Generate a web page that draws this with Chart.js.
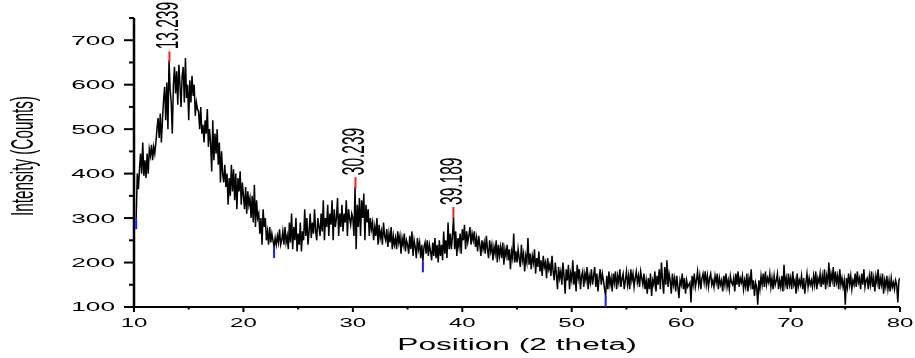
<!DOCTYPE html>
<html>
<head>
<meta charset="utf-8">
<script src="https://cdn.jsdelivr.net/npm/chart.js@4.4.1/dist/chart.umd.min.js"></script>
<style>
  html, body { margin: 0; padding: 0; background: #fff; }
</style>
</head>
<body>
<canvas id="xrdChart" width="915" height="358"></canvas>
<script>
// scan grid: 2 theta from 10.2 to 80.0, step 0.1
const startTheta = 10.2;
const thetaStep = 0.1;

// intensity (counts), one decade at a time
const counts10s = [
  300, 400, 365, 410, 445, 400, 470, 395,
  430, 390, 445, 400, 455, 440, 465, 430, 460, 445,
  470, 500, 525, 480, 535, 470, 520, 565, 595, 520,
  605, 500, 655, 590, 560, 490, 600, 640, 580, 630,
  555, 645, 600, 550, 620, 640, 560, 660, 570, 600,
  520, 610, 560, 620, 575, 600, 530, 560, 545, 540,
  500, 550, 490, 510, 470, 520, 490, 545, 460, 500,
  470, 405, 520, 430, 490, 445, 500, 420, 470, 380,
  450, 400, 380, 420, 370, 400, 330, 390, 350, 420,
  360, 410, 340, 400, 320, 390, 360, 405, 330, 380
];
const counts20s = [
  350, 320, 370, 310, 360, 330, 345, 300, 350, 290,
  375, 280, 340, 300, 310, 265, 300, 240, 320, 280,
  300, 250, 270, 240, 280, 245, 265, 250, 235, 255,
  240, 260, 245, 275, 240, 250, 270, 240, 280, 245,
  260, 230, 290, 245, 310, 230, 280, 250, 300, 225,
  265, 240, 290, 225, 270, 250, 320, 260, 300, 240,
  270, 310, 255, 290, 265, 320, 270, 250, 300, 280,
  260, 310, 270, 340, 250, 300, 280, 330, 260, 310,
  285, 340, 250, 320, 280, 300, 345, 260, 310, 280,
  330, 270, 310, 290, 340, 260, 320, 300, 285, 310
];
const counts30s = [
  300, 260, 370, 230, 330, 280, 345, 260, 340, 300,
  355, 250, 330, 290, 320, 260, 300, 275, 290, 250,
  280, 260, 300, 240, 285, 255, 270, 240, 290, 260,
  250, 275, 235, 265, 245, 280, 230, 260, 240, 255,
  230, 270, 245, 260, 220, 255, 240, 265, 225, 250,
  240, 220, 260, 230, 270, 215, 250, 235, 210, 255,
  230, 245, 210, 240, 203, 235, 245, 220, 250, 215,
  240, 225, 205, 245, 215, 255, 210, 240, 200, 250,
  215, 240, 205, 270, 220, 250, 210, 290, 230, 265,
  230, 260, 302, 230, 270, 215, 255, 235, 265, 220
];
const counts40s = [
  275, 250, 285, 230, 270, 245, 260, 280, 240, 265,
  250, 270, 235, 255, 225, 260, 240, 215, 250, 230,
  245, 220, 260, 230, 210, 250, 225, 240, 205, 235,
  220, 250, 200, 240, 215, 235, 210, 245, 195, 230,
  215, 240, 205, 230, 185, 225, 210, 265, 200, 225,
  200, 230, 210, 190, 240, 205, 220, 180, 215, 200,
  255, 195, 220, 185, 215, 200, 230, 175, 210, 190,
  225, 180, 205, 170, 215, 190, 200, 165, 210, 185,
  195, 170, 215, 180, 160, 200, 175, 140, 190, 165,
  180, 150, 200, 170, 130, 185, 160, 195, 140, 175
];
const counts50s = [
  160, 205, 150, 180, 135, 195, 165, 185, 140, 170,
  180, 145, 175, 160, 190, 140, 170, 155, 185, 150,
  170, 190, 145, 175, 135, 165, 185, 150, 175, 160,
  140, 125, 170, 140, 180, 150, 165, 135, 175, 155,
  180, 140, 170, 155, 185, 145, 165, 175, 140, 160,
  180, 150, 170, 140, 185, 160, 175, 145, 165, 180,
  155, 170, 145, 180, 165, 150, 175, 140, 160, 130,
  165, 140, 175, 125, 160, 150, 180, 135, 170, 150,
  185, 140, 200, 160, 130, 190, 150, 205, 145, 175,
  160, 130, 175, 150, 165, 135, 170, 145, 120, 160
];
const counts60s = [
  150, 175, 140, 165, 130, 160, 145, 150, 155, 110,
  170, 150, 175, 145, 160, 180, 150, 170, 140, 165,
  175, 155, 180, 150, 170, 145, 165, 175, 150, 160,
  145, 170, 155, 175, 140, 165, 150, 160, 135, 170,
  150, 175, 145, 160, 140, 170, 155, 150, 165, 135,
  175, 150, 180, 145, 165, 155, 170, 140, 160, 145,
  175, 135, 165, 150, 185, 140, 160, 125, 155, 145,
  105, 160, 140, 170, 150, 175, 145, 180, 150, 165,
  155, 175, 145, 165, 140, 170, 150, 160, 175, 140,
  160, 145, 170, 135, 195, 150, 165, 140, 175, 150
];
const counts70s = [
  165, 140, 180, 150, 160, 130, 175, 145, 160, 150,
  170, 140, 165, 130, 155, 175, 145, 165, 150, 160,
  145, 170, 150, 180, 140, 165, 155, 175, 145, 170,
  150, 185, 140, 170, 155, 200, 145, 175, 160, 190,
  145, 180, 155, 170, 140, 185, 150, 165, 145, 160,
  105, 165, 145, 175, 150, 170, 140, 160, 150, 175,
  145, 180, 155, 165, 140, 175, 150, 185, 145, 160,
  165, 140, 170, 150, 180, 145, 165, 135, 170, 155,
  185, 140, 165, 150, 175, 130, 160, 145, 170, 140,
  160, 135, 165, 145, 155, 140, 160, 150, 110, 160,
  165
];

// labelled peaks (red) and baseline points (blue)
const peakThetas = [13.239, 30.239, 39.189];
const peakCounts = [650, 367, 300];
const baseThetas = [10.2, 22.8, 36.4, 53.1];
const baseCounts = [300, 235, 203, 125];

const xTickLabels = [10, 20, 30, 40, 50, 60, 70, 80];
const yTickLabels = [100, 200, 300, 400, 500, 600, 700];
const xTitle = "Position (2 theta)";
const yTitle = "Intensity (Counts)";

const allCounts = [].concat(counts10s, counts20s, counts30s, counts40s, counts50s, counts60s, counts70s);
const scanPoints = allCounts.map((c, i) => ({ x: +(startTheta + i * thetaStep).toFixed(1), y: c }));

const FONT = "'Liberation Sans', Arial, sans-serif";
const markLen = 25; // counts

function stroke(ctx, x1, y1, x2, y2) {
  ctx.beginPath();
  ctx.moveTo(x1, y1);
  ctx.lineTo(x2, y2);
  ctx.stroke();
}

// text in the reference is stretched about 2x horizontally
function wideText(ctx, text, x, y, size, sx, align, baseline) {
  ctx.save();
  ctx.font = size + "px " + FONT;
  ctx.textAlign = align;
  ctx.textBaseline = baseline;
  ctx.translate(x, y);
  ctx.scale(sx, 1);
  ctx.fillText(text, 0, 0);
  ctx.restore();
}

function upText(ctx, text, x, y, size, sx, align) {
  ctx.save();
  ctx.font = size + "px " + FONT;
  ctx.textAlign = align;
  ctx.textBaseline = "middle";
  ctx.translate(x, y);
  ctx.scale(sx, 1);
  ctx.rotate(-Math.PI / 2);
  ctx.fillText(text, 0, 0);
  ctx.restore();
}

const decor = {
  id: "decor",
  afterDraw(chart) {
    const ctx = chart.ctx;
    const xs = chart.scales.x, ys = chart.scales.y;
    const left = xs.getPixelForValue(xs.min);
    const right = xs.getPixelForValue(xs.max);
    const top = ys.getPixelForValue(ys.max);
    const bottom = ys.getPixelForValue(ys.min);

    ctx.save();
    ctx.strokeStyle = "#000";
    ctx.fillStyle = "#000";

    // axes
    ctx.lineWidth = 2.5;
    stroke(ctx, left, top, left, bottom + 1);
    ctx.lineWidth = 2;
    stroke(ctx, left - 1, bottom, right, bottom);

    // y ticks, every 50
    for (let v = ys.min; v <= ys.max; v += 50) {
      const y = ys.getPixelForValue(v);
      const len = v % 100 === 0 ? 10 : 5;
      stroke(ctx, left - len, y, left, y);
    }
    // x ticks, every 5
    for (let v = xs.min; v <= xs.max; v += 5) {
      const x = xs.getPixelForValue(v);
      const len = v % 10 === 0 ? 5 : 2.5;
      stroke(ctx, x, bottom, x, bottom + len);
    }

    yTickLabels.forEach(v => wideText(ctx, String(v), left - 19, ys.getPixelForValue(v) + 1, 12.5, 2.1, "right", "middle"));
    xTickLabels.forEach(v => wideText(ctx, String(v), xs.getPixelForValue(v), bottom + 17, 12, 2.0, "center", "middle"));

    wideText(ctx, xTitle, (left + right) / 2, 350, 16, 1.98, "center", "alphabetic");
    upText(ctx, yTitle, 25, 156, 15.3, 2, "center");

    // peak marks and labels
    ctx.lineWidth = 2;
    ctx.strokeStyle = "#ff2020";
    peakThetas.forEach((t, i) => {
      const x = xs.getPixelForValue(t);
      stroke(ctx, x, ys.getPixelForValue(peakCounts[i]), x, ys.getPixelForValue(peakCounts[i] + markLen));
    });
    peakThetas.forEach((t, i) => {
      const x = xs.getPixelForValue(t);
      upText(ctx, t.toFixed(3), x, ys.getPixelForValue(peakCounts[i] + markLen) - 2, 15.5, 2, "left");
    });
    ctx.strokeStyle = "#1a1aff";
    baseThetas.forEach((t, i) => {
      const x = xs.getPixelForValue(t);
      stroke(ctx, x, ys.getPixelForValue(baseCounts[i]), x, ys.getPixelForValue(baseCounts[i] - markLen));
    });
    ctx.restore();
  }
};

const ctx = document.getElementById("xrdChart").getContext("2d");
const xrdChart = new Chart(ctx, {
  type: "line",
  data: {
    datasets: [{
      data: scanPoints,
      borderColor: "#000",
      borderWidth: 1.5,
      pointRadius: 0,
      tension: 0,
      fill: false
    }]
  },
  options: {
    responsive: false,
    animation: false,
    events: [],
    layout: { padding: { top: 18, right: 15, left: 0, bottom: 0 } },
    plugins: { legend: { display: false }, tooltip: { enabled: false } },
    scales: {
      x: {
        type: "linear",
        min: 10,
        max: 80,
        grid: { display: false },
        border: { display: false },
        ticks: { display: false },
        afterFit: s => { s.height = 51; }
      },
      y: {
        min: 100,
        max: 750,
        grid: { display: false },
        border: { display: false },
        ticks: { display: false },
        afterFit: s => { s.width = 134; }
      }
    }
  },
  plugins: [decor]
});
</script>
</body>
</html>
